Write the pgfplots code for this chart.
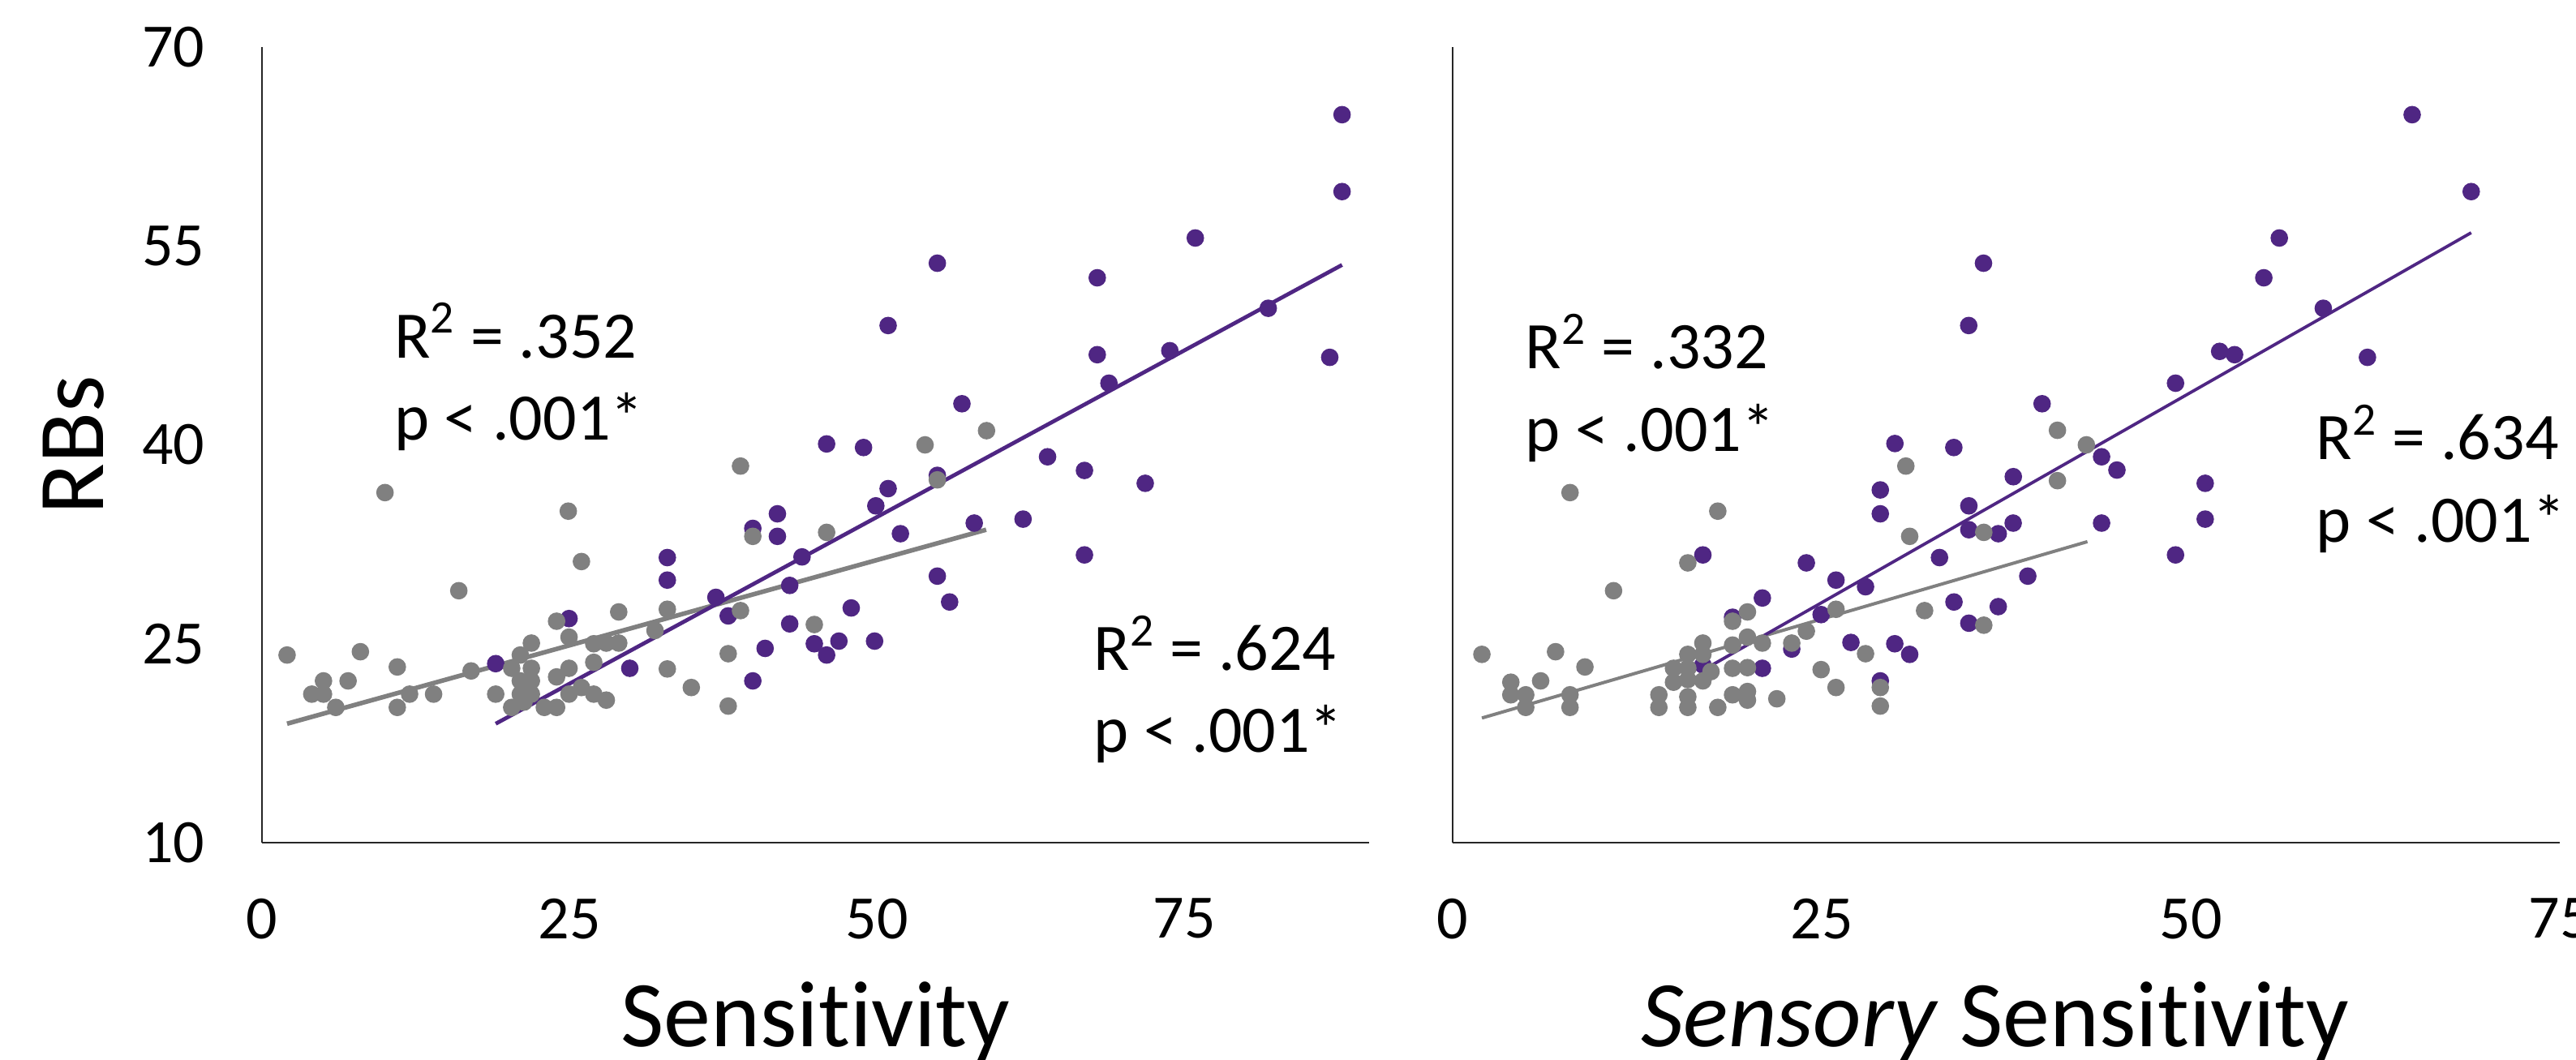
\documentclass[border=0pt]{standalone}
\usepackage{fontspec}
\setmainfont{Carlito}[Ligatures={NoCommon,NoContextual}, RawFeature={-liga;-clig;-calt;-dlig}]
\usepackage{pgfplots}
\pgfplotsset{compat=1.18}
\definecolor{pur}{RGB}{79,38,131}
\definecolor{gr}{RGB}{128,128,128}
\newcommand{\Sens}{Sensit\kern0pt ivit\kern0pt y}
\tikzset{
  ann/.style={anchor=base west, inner sep=0pt, font=\fontsize{20.5}{25}\selectfont},
  big/.style={inner sep=0pt, font=\fontsize{29}{34}\selectfont},
}
\pgfplotsset{
  myax/.style={
    scale only axis, width=341.25pt, height=245.25pt,
    ymin=10, ymax=70, xmin=0,
    axis x line=bottom, axis y line=left,
    axis line style={-, black!85, line width=0.6pt},
    major tick length=0pt,
    tick label style={font=\fontsize{19}{22}\selectfont, inner sep=0pt},
    xtick={0,25,50,75}, xticklabels={0,25,50,75},
    ytick={10,25,40,55,70},
    xticklabel style={anchor=north, yshift=-17pt},
    yticklabel style={anchor=east, xshift=-17.5pt},
    clip=false,
  },
  dotp/.style={only marks, mark=*, mark size=2.5pt, color=pur, mark options={draw=none, fill=pur}},
  dotg/.style={only marks, mark=*, mark size=2.5pt, color=gr, mark options={draw=none, fill=gr}},
}
\begin{document}
\begin{tikzpicture}
% ---------------- left panel ----------------
\begin{axis}[myax, xmax=90, at={(0,0)}, yticklabels={10,25,40,55,70}]
\addplot[dotp] coordinates {
(19.0,23.5) (24.96,26.9) (29.9,23.15) (32.95,29.8) (32.95,31.5) (36.9,28.5)
(37.9,27.1) (39.9,22.2) (39.9,33.7) (40.9,24.65) (41.9,34.8) (41.9,33.1) (42.9,29.4)
(42.9,26.5) (43.9,31.55) (44.9,25.0) (45.9,40.07) (45.9,24.15) (46.9,25.2)
(47.9,27.7) (48.9,39.8) (49.8,25.2) (49.9,35.4) (50.9,49.0) (50.9,36.7)
(51.9,33.3) (54.9,53.7) (54.9,37.7) (54.9,30.1) (55.9,28.15) (56.9,43.1)
(57.9,34.1) (61.87,34.4) (63.86,39.1) (66.86,38.07) (66.86,31.7) (67.9,52.6)
(67.9,46.8) (68.85,44.65) (71.8,37.1) (73.8,47.1) (75.87,55.6) (81.8,50.3)
(86.8,46.6) (87.8,64.9) (87.8,59.1)
};
\addplot[dotg] coordinates {
(2.04,24.15) (4.05,21.2) (5.0,21.2) (5.0,22.2) (6.0,20.2) (7.0,22.2)
(8.0,24.4) (10.0,36.4) (11.0,23.25) (11.0,20.2) (12.0,21.2) (13.95,21.2)
(16.0,29.0) (17.0,22.95) (19.0,21.2) (20.3,23.15) (21.0,24.15) (21.0,22.2)
(21.0,21.2) (20.3,20.2) (21.3,20.6) (21.9,25.05) (21.9,23.15) (21.9,22.2)
(21.9,21.2) (22.95,20.2) (23.95,20.2) (23.95,22.5) (23.95,26.7) (24.9,35.0)
(24.96,25.5) (24.96,23.15) (24.96,21.2) (25.97,21.7) (25.97,31.2) (26.97,25.0)
(26.97,23.6) (26.97,21.2) (27.99,20.75) (27.99,25.05) (29.0,25.05) (29.0,27.4)
(31.95,26.0) (32.95,27.6) (32.95,23.1) (34.9,21.7) (37.9,24.25) (37.9,20.3)
(38.9,27.5) (38.9,38.4) (39.9,33.1) (44.9,26.45) (45.9,33.4) (53.9,40.0) (54.9,37.36)
(58.9,41.07)
};
\addplot[gr, line width=1.4pt, no marks] coordinates {(2.04,18.97) (58.87,33.6)};
\addplot[pur, line width=1.2pt, no marks] coordinates {(19.0,18.97) (87.8,53.57)};
\node[ann] at (axis cs:10.72,46.57) {R\textsuperscript{2} = .352};
\node[ann] at (axis cs:10.72,40.39) {p < .001*};
\node[ann] at (axis cs:67.57,22.97) {R\textsuperscript{2} = .624};
\node[ann] at (axis cs:67.57,16.79) {p < .001*};
\node[big, rotate=90, anchor=base] at (axis description cs:-0.1429,0.5) {RBs};
\node[big, anchor=base] at (axis description cs:0.5,-0.2559) {\Sens};
\end{axis}
% ---------------- right panel ----------------
\begin{axis}[myax, xmax=75, at={(367pt,0)}, yticklabels={}]
\addplot[dotp] coordinates {
(16.95,23.4) (16.95,31.7) (18.96,27.0) (20.98,28.45) (20.98,23.15) (22.97,24.6)
(23.96,31.1) (24.96,27.2) (25.97,29.8) (26.98,25.1) (27.97,29.3) (28.97,36.6)
(28.97,34.8) (28.97,22.2) (29.95,25.0) (29.96,40.1) (30.96,24.2) (32.98,31.5)
(33.95,39.8) (33.96,28.15) (34.97,35.4) (34.97,33.6) (34.97,26.55) (34.96,49.0)
(35.96,53.7) (36.96,33.3) (36.96,27.8) (37.97,34.1) (37.98,37.6) (38.96,30.1)
(39.93,43.1) (43.96,39.1) (43.96,34.1) (45.0,38.1) (48.97,44.65) (48.97,31.7)
(50.98,37.1) (50.98,34.4) (51.96,47.05) (52.97,46.8) (54.95,52.6) (56.0,55.6)
(58.98,50.3) (61.97,46.6) (65.0,64.9) (69.0,59.1)
};
\addplot[dotg] coordinates {
(1.98,24.2) (3.94,22.1) (3.94,21.15) (4.95,21.15) (4.95,20.2) (5.96,22.2)
(6.97,24.4) (7.95,36.4) (7.95,21.15) (7.95,20.2) (8.96,23.25) (10.9,29.0)
(13.97,21.15) (13.97,20.2) (14.96,22.1) (14.96,23.15) (15.93,24.2) (15.93,23.15)
(15.93,22.3) (15.93,21.0) (15.93,20.2) (15.93,31.1) (16.95,25.05) (16.95,24.2)
(16.95,22.2) (17.5,22.9) (17.96,35.0) (17.96,20.2) (18.96,24.9) (18.96,23.15)
(18.96,21.15) (18.96,26.7) (19.97,27.4) (19.97,25.5) (19.97,23.2) (19.97,21.4)
(19.97,20.75) (20.98,25.05) (21.96,20.85) (22.97,25.05) (23.96,25.95) (24.96,23.05)
(25.97,27.6) (25.97,21.7) (27.97,24.25) (28.97,21.7) (28.97,20.3) (30.7,38.4)
(30.96,33.1) (31.97,27.5) (35.98,33.4) (35.98,26.4) (40.97,41.1) (40.97,37.3)
(42.93,40.0)
};
\addplot[gr, line width=1.0pt, no marks] coordinates {(1.98,19.4) (43.0,32.7)};
\addplot[pur, line width=0.95pt, no marks] coordinates {(16.95,23.0) (69.0,56.0)};
\node[ann] at (axis cs:4.89,45.72) {R\textsuperscript{2} = .332};
\node[ann] at (axis cs:4.89,39.54) {p < .001*};
\node[ann] at (axis cs:58.46,38.87) {R\textsuperscript{2} = .634};
\node[ann] at (axis cs:58.46,32.69) {p < .001*};
\node[big, anchor=base] at (axis description cs:0.49,-0.2559) {\textit{Sensory} \Sens};
\end{axis}
\pgfresetboundingbox
\useasboundingbox (-80.75pt,-66.75pt) rectangle (713.25pt,259.75pt);
\end{tikzpicture}
\end{document}
